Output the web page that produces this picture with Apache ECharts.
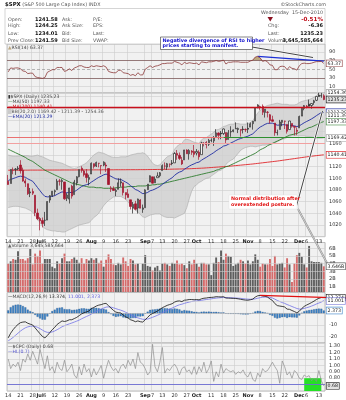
<!DOCTYPE html>
<html>
<head>
<meta charset="utf-8">
<script src="https://cdn.jsdelivr.net/npm/echarts@6/dist/echarts.min.js"></script>
<style>
html,body{margin:0;padding:0;background:#fff;}
#chart{width:346px;height:400px;}
</style>
</head>
<body>
<div id="chart"></div>
<script>
// ---- trading days (2010) ----
const dates = ['06-14','06-15','06-16','06-17','06-18','06-21','06-22','06-23','06-24','06-25','06-28','06-29','06-30',
'07-01','07-02','07-06','07-07','07-08','07-09','07-12','07-13','07-14','07-15','07-16','07-19','07-20','07-21','07-22','07-23','07-26','07-27','07-28','07-29','07-30',
'08-02','08-03','08-04','08-05','08-06','08-09','08-10','08-11','08-12','08-13','08-16','08-17','08-18','08-19','08-20','08-23','08-24','08-25','08-26','08-27','08-30','08-31',
'09-01','09-02','09-03','09-07','09-08','09-09','09-10','09-13','09-14','09-15','09-16','09-17','09-20','09-21','09-22','09-23','09-24','09-27','09-28','09-29','09-30',
'10-01','10-04','10-05','10-06','10-07','10-08','10-11','10-12','10-13','10-14','10-15','10-18','10-19','10-20','10-21','10-22','10-25','10-26','10-27','10-28','10-29',
'11-01','11-02','11-03','11-04','11-05','11-08','11-09','11-10','11-11','11-12','11-15','11-16','11-17','11-18','11-19','11-22','11-23','11-24','11-26','11-29','11-30',
'12-01','12-02','12-03','12-06','12-07','12-08','12-09','12-10','12-13','12-14','12-15'];

// x-axis tick labels
const tickDates = ['06-14','06-21','06-28','07-01','07-06','07-12','07-19','07-26','08-02','08-09','08-16','08-23','09-01','09-07','09-13','09-20','09-27','10-01','10-11','10-18','10-25','11-01','11-08','11-15','11-22','12-01','12-06','12-13'];
const tickText  = ['14','21','28','Jul','6','12','19','26','Aug','9','16','23','Sep','7','13','20','27','Oct','11','18','25','Nov','8','15','22','Dec','6','13'];
const priceTickLabels = [1020,1040,1060,1080,1100,1120,1160];

// ---- $SPX daily OHLC ----
const opens = [1095.0,1091.2,1114.0,1115.0,1116.2,1122.8,1113.9,1095.6,1090.9,1075.1,1077.5,1071.1,1040.6,
1031.1,1027.7,1028.1,1028.5,1062.9,1070.5,1077.2,1080.6,1095.6,1094.5,1093.9,1066.0,1064.5,1086.7,1072.1,1092.2,1102.9,1117.4,1112.8,1108.1,1098.4,
1107.5,1125.3,1121.1,1125.8,1122.1,1122.8,1122.9,1116.9,1081.5,1082.2,1077.5,1081.2,1092.1,1092.4,1075.6,1073.4,1063.2,1048.9,1056.3,1049.3,1062.9,1046.9,
1049.7,1080.7,1093.6,1102.6,1092.4,1101.2,1104.6,1113.4,1121.2,1119.4,1123.9,1126.4,1126.6,1142.8,1139.5,1131.1,1131.7,1148.6,1142.3,1146.8,1146.0,
1143.5,1145.0,1140.7,1159.8,1161.6,1158.4,1165.3,1164.3,1171.3,1177.8,1177.5,1176.8,1178.6,1166.7,1179.6,1180.5,1184.7,1183.8,1183.8,1184.5,1183.9,
1185.7,1187.9,1193.8,1198.3,1221.2,1223.2,1223.6,1213.1,1213.0,1209.1,1200.4,1194.8,1178.3,1183.8,1196.1,1198.1,1192.5,1183.7,1194.2,1189.1,1182.6,
1186.6,1206.8,1219.9,1223.9,1227.3,1225.0,1230.1,1233.9,1242.5,1241.8,1241.58];
const highs = [1105.9,1115.6,1118.7,1117.7,1121.0,1131.2,1118.5,1099.6,1090.9,1083.6,1082.6,1071.1,1048.1,
1033.6,1032.9,1042.5,1060.9,1071.3,1078.2,1080.8,1099.1,1099.1,1098.7,1093.9,1074.7,1083.9,1089.0,1097.5,1103.7,1115.0,1120.9,1114.7,1115.9,1106.4,
1127.3,1125.4,1128.8,1126.6,1122.1,1129.2,1127.2,1116.9,1086.7,1086.3,1082.6,1100.1,1099.8,1092.4,1075.6,1081.6,1063.2,1059.4,1061.5,1065.2,1064.4,1055.1,
1081.3,1090.1,1105.1,1102.6,1103.3,1110.3,1110.9,1123.9,1127.4,1126.5,1125.4,1131.5,1144.9,1148.6,1144.4,1136.8,1148.9,1149.9,1150.0,1148.6,1157.2,
1150.3,1148.2,1162.8,1162.3,1163.9,1167.7,1168.7,1172.6,1184.4,1178.9,1181.2,1185.5,1178.6,1182.9,1189.4,1183.9,1196.1,1187.1,1183.8,1189.5,1185.5,
1195.8,1195.9,1198.3,1221.3,1227.1,1224.6,1226.8,1218.8,1215.5,1210.5,1207.4,1194.8,1183.6,1200.3,1200.0,1198.9,1192.5,1198.6,1194.2,1189.1,1187.4,
1207.6,1221.9,1225.6,1225.8,1235.1,1228.9,1234.7,1240.4,1246.7,1246.6,1244.25];
const lows = [1089.0,1091.2,1107.1,1105.9,1113.9,1108.2,1094.2,1085.3,1071.6,1067.9,1071.5,1035.2,1028.3,
1010.9,1015.9,1018.4,1028.5,1058.2,1068.1,1070.5,1080.6,1087.7,1080.5,1063.3,1061.1,1056.9,1065.3,1072.1,1087.9,1101.8,1109.8,1103.1,1092.8,1088.0,
1107.5,1116.8,1119.5,1118.9,1107.2,1120.9,1111.0,1088.6,1076.7,1079.0,1069.6,1081.2,1085.8,1070.7,1063.9,1067.1,1046.7,1039.8,1045.4,1039.7,1048.8,1040.9,
1049.7,1080.4,1093.6,1091.2,1092.4,1101.2,1101.7,1113.4,1115.6,1114.6,1118.9,1122.4,1126.6,1131.9,1131.6,1122.8,1131.7,1142.0,1132.1,1140.3,1136.1,
1139.4,1131.9,1140.7,1154.9,1151.4,1155.6,1162.0,1155.7,1171.3,1166.7,1167.1,1174.6,1159.7,1166.7,1171.2,1179.0,1184.7,1177.7,1171.7,1177.1,1179.7,
1177.7,1187.9,1183.6,1198.3,1220.3,1217.6,1208.7,1204.3,1204.5,1194.1,1197.2,1173.0,1173.7,1183.8,1189.4,1184.6,1176.9,1183.7,1186.9,1173.6,1174.1,
1186.6,1206.8,1216.8,1220.1,1223.3,1219.5,1226.1,1232.6,1240.3,1238.2,1234.01];
const closes = [1089.6,1115.2,1114.6,1116.0,1117.5,1113.2,1095.3,1092.0,1073.7,1076.8,1074.6,1041.2,1030.7,
1027.4,1022.6,1028.1,1060.3,1070.3,1078.0,1078.8,1095.3,1095.2,1096.5,1064.9,1071.3,1083.5,1069.6,1093.7,1102.7,1115.0,1113.8,1106.1,1101.5,1101.6,
1125.9,1120.5,1127.2,1125.8,1121.6,1127.8,1121.1,1089.5,1083.6,1079.3,1079.4,1092.5,1094.2,1075.6,1071.7,1067.4,1051.9,1055.3,1047.2,1064.6,1048.9,1049.3,
1080.3,1090.1,1104.5,1091.8,1098.9,1104.2,1109.6,1121.9,1121.1,1125.1,1124.7,1125.6,1142.7,1139.8,1134.3,1124.8,1148.7,1142.2,1147.7,1144.7,1141.2,
1146.2,1137.0,1160.8,1160.0,1158.1,1165.2,1165.3,1169.8,1178.1,1173.8,1176.2,1184.7,1165.9,1178.2,1180.3,1183.1,1185.6,1185.6,1182.5,1183.8,1183.3,
1184.4,1193.6,1198.0,1221.1,1225.9,1223.3,1213.4,1218.7,1213.5,1199.2,1197.8,1178.3,1178.6,1196.7,1199.7,1197.8,1180.7,1198.4,1189.4,1187.8,1180.6,
1206.1,1221.5,1224.7,1223.1,1223.8,1228.3,1233.0,1240.4,1240.5,1241.59,1235.23];

// ---- overlays ----
const ma50 = [1150,1148,1146,1144,1142,1140,1138,1136,1133,1131,1129,1126,1123,
1120,1117,1114,1112,1110,1108,1106,1104,1102,1100,1098,1096,1094,1092,1091,1090,1089,1088,1087,1086,1085,
1085,1085,1084,1084,1084,1083,1083,1083,1083,1083,1084,1084,1085,1085,1085,1086,1086,1086,1086,1087,1087,1087,
1087,1088,1088,1089,1089,1090,1090,1091,1092,1093,1094,1095,1096,1097,1098,1099,1100,1101,1102,1103,1104,
1105,1106,1107,1108,1109,1110,1111,1112,1114,1115,1117,1118,1120,1121,1123,1125,1127,1129,1131,1133,1135,
1137,1139,1141,1143,1146,1149,1151,1153,1156,1158,1160,1162,1164,1166,1168,1170,1172,1174,1175,1176,1177,
1179,1181,1183,1185,1187,1188,1190,1192,1194,1196,1197.33];
const ma200 = [1114.0,1114.0,1114.0,1114.0,1114.1,1114.1,1114.1,1114.1,1114.1,1114.2,1114.2,1114.2,1114.2,
1114.2,1114.2,1114.2,1114.3,1114.3,1114.3,1114.3,1114.3,1114.3,1114.4,1114.4,1114.4,1114.4,1114.4,1114.4,1114.5,1114.5,1114.5,1114.5,1114.5,1114.5,
1114.6,1114.6,1114.6,1114.6,1114.6,1114.7,1114.7,1114.7,1114.7,1114.7,1114.8,1114.8,1114.8,1114.8,1114.8,1114.9,1114.9,1114.9,1114.9,1114.9,1115.0,1115.0,
1115.0,1115.1,1115.1,1115.2,1115.2,1115.3,1115.3,1115.4,1115.5,1115.6,1115.7,1115.8,1115.9,1116.0,1116.1,1116.2,1116.3,1116.4,1116.5,1116.7,1116.9,
1117.1,1117.3,1117.5,1117.7,1118.0,1118.3,1118.6,1118.9,1119.2,1119.5,1119.8,1120.1,1120.4,1120.7,1121.1,1121.5,1121.9,1122.3,1122.7,1123.1,1123.5,
1123.9,1124.3,1124.7,1125.2,1125.7,1126.2,1126.7,1127.2,1127.7,1128.2,1128.7,1129.2,1129.7,1130.3,1130.9,1131.5,1132.1,1132.7,1133.3,1133.9,1134.5,
1135.1,1135.7,1136.3,1136.9,1137.5,1138.0,1138.5,1139.0,1139.5,1140.0,1140.41];
const ema20 = [1096.3,1098.1,1099.7,1101.2,1102.8,1103.8,1103.0,1101.9,1099.2,1097.1,1095.0,1089.8,1084.2,
1078.8,1073.4,1069.1,1068.3,1068.5,1069.4,1070.3,1072.7,1074.8,1076.9,1075.7,1075.3,1076.1,1075.5,1077.2,1079.7,1083.0,1086.0,1087.9,1089.2,1090.4,
1093.7,1096.3,1099.2,1101.8,1103.7,1106.0,1107.4,1105.7,1103.6,1101.3,1099.2,1098.6,1098.2,1096.0,1093.7,1091.2,1087.5,1084.4,1080.9,1079.3,1076.4,1073.8,
1074.4,1075.9,1078.7,1079.9,1081.7,1083.9,1086.3,1089.7,1092.7,1095.8,1098.5,1101.1,1105.1,1108.4,1110.8,1112.2,1115.6,1118.2,1121.0,1123.2,1124.9,
1127.0,1127.9,1131.1,1133.8,1136.1,1138.9,1141.4,1144.1,1147.3,1149.9,1152.4,1155.4,1156.4,1158.5,1160.6,1162.7,1164.9,1166.9,1168.3,1169.8,1171.1,
1172.4,1174.4,1176.4,1180.5,1184.6,1188.0,1190.2,1192.7,1194.3,1194.6,1194.7,1192.9,1191.2,1191.5,1191.9,1192.1,1190.7,1191.0,1190.5,1190.0,1188.8,
1190.1,1192.7,1195.4,1197.6,1199.7,1202.0,1204.6,1207.6,1210.3,1212.8,1213.29];
const bbUpper = [1140,1139,1138,1138,1138,1139,1139,1139,1139,1138,1138,1139,1140,
1138,1137,1135,1133,1131,1130,1129,1128,1127,1126,1124,1122,1120,1118,1117,1118,1120,1122,1124,1127,1131,
1136,1140,1143,1145,1144,1143,1141,1139,1137,1136,1136,1136,1137,1137,1137,1138,1140,1141,1142,1143,1143,1144,
1142,1138,1132,1126,1123,1122,1123,1128,1133,1137,1139,1141,1150,1155,1158,1160,1166,1167,1166,1164,1162,
1161,1160,1166,1169,1170,1173,1176,1179,1183,1184,1186,1189,1190,1192,1193,1193,1194,1194,1193,1193,1193,
1194,1196,1199,1206,1212,1217,1220,1223,1225,1226,1227,1228,1229,1228,1227,1227,1227,1226,1226,1226,1227,
1230,1232,1233,1234,1235,1237,1239,1242,1246,1250,1254.36];
const bbLower = [1050,1051,1052,1052,1052,1051,1050,1049,1047,1045,1042,1037,1030,
1024,1018,1014,1012,1011,1010,1010,1009,1009,1008,1008,1010,1012,1014,1016,1018,1020,1021,1022,1023,1024,
1028,1033,1036,1040,1047,1053,1058,1062,1065,1068,1069,1069,1069,1067,1064,1060,1054,1050,1045,1043,1038,1034,
1033,1035,1037,1038,1039,1039,1039,1036,1034,1033,1033,1033,1032,1034,1036,1038,1040,1050,1065,1078,1086,
1089,1093,1095,1098,1100,1101,1104,1107,1110,1113,1114,1118,1124,1128,1131,1133,1138,1143,1148,1151,1153,
1154,1155,1155,1154,1155,1156,1157,1157,1158,1158,1159,1161,1163,1165,1167,1168,1170,1172,1173,1173,1173,
1173,1173,1173,1172,1172,1171,1170,1169,1169,1169,1169.42];
const bbMidLast = 1211.39;
// drawn support / resistance levels
const levelRed = 1222.5, levelUpper = 1171, levelLower = 1160;

// ---- RSI(14) ----
const rsi = [44,53,52,53,53,51,46,45,40,41,41,33,31,
30,29,31,43,46,49,49,54,54,54,45,47,51,47,53,55,58,58,55,54,54,
58,56,58,57,56,58,55,45,43,42,42,47,48,42,41,40,36,38,35,42,37,37,
50,54,58,54,57,58,60,63,63,64,64,64,68,66,64,60,66,63,65,64,63,
64,60,67,66,65,67,67,68,70,68,69,71,62,66,66,67,67,67,66,66,66,
66,69,71,78,79.5,76,68,70,67,60,59,49,49,56,57,56,49,56,52,51,48,
58,63,64,63,63,64,66,67.5,67.5,68,63.37];
const rsiLevels = [90,70,50,30,10];

// ---- Volume (billions of shares) ----
const volumes = [4.0,4.3,4.6,4.5,5.6,4.6,4.6,4.4,4.7,5.9,3.9,5.3,5.0,
5.7,4.0,4.6,4.6,4.6,3.6,3.4,4.3,4.0,4.7,5.3,4.3,4.3,4.6,4.8,4.5,4.1,4.7,4.0,4.6,4.4,
4.7,4.5,4.7,4.1,4.4,3.6,4.5,5.2,4.6,3.9,3.8,4.1,3.9,4.8,4.3,3.7,4.6,4.4,3.9,4.0,3.1,4.0,
5.1,3.7,3.6,3.1,3.5,3.7,3.1,4.0,4.1,3.9,3.7,4.1,4.0,4.4,3.9,4.0,3.8,3.4,4.3,3.9,4.5,
4.0,3.6,4.1,4.1,3.9,3.9,2.5,4.1,4.8,4.2,5.7,4.5,5.3,5.0,4.9,3.7,3.9,4.1,4.5,4.3,4.0,
4.4,3.9,4.3,5.2,4.5,3.6,4.0,3.9,3.9,4.6,3.7,5.0,3.9,4.0,4.1,3.5,4.7,3.9,1.6,4.0,5.1,
5.4,4.9,3.9,3.5,6.3,4.3,4.2,4.2,4.2,4.1,3.645585664];
const volumeLevels = [1,2,3,4,5,6];

// ---- MACD(12,26,9) ----
const macd = [-21,-17,-14,-11.5,-9.5,-8,-7.5,-7.3,-8.5,-9.3,-10,-12.5,-15,
-17.5,-19.8,-21,-19,-16.5,-14,-12,-9.5,-8,-6.5,-7,-6.5,-5.5,-5.5,-4.5,-3.5,-2,-0.5,0.5,1.2,2,
4,5,6.2,7,7.4,8.2,8.5,6.5,4.5,2.5,1,0.6,0.3,-1.5,-3,-4,-5.5,-6.2,-7.2,-6.5,-7.2,-7.5,
-5.5,-3.5,-1.3,-0.2,0.8,2,3.3,4.8,5.8,6.8,7.5,8.2,9.6,10.4,10.6,10,11.2,11.4,11.8,11.8,11.6,
11.8,11.5,12.4,12.9,13.1,13.5,13.6,13.8,14.2,14.1,14.0,14.2,13.1,13.0,12.9,12.8,12.7,12.4,12.0,11.6,11.3,
11.2,11.6,12.2,13.9,15.0,15.3,14.8,14.6,13.9,12.3,11.0,8.3,6.6,6.2,5.9,5.4,3.6,3.4,2.4,1.5,0.4,
1.8,4.1,5.9,7.1,8.1,9.2,10.4,11.8,12.8,13.5,13.374];
const macdSignal = [-23.5,-22.2,-20.6,-18.8,-17,-15.2,-13.7,-12.4,-11.6,-11.1,-10.9,-11.2,-12.0,
-13.1,-14.4,-15.6,-16.3,-16.3,-15.9,-15.1,-14.0,-12.8,-11.5,-10.6,-9.8,-9.0,-8.3,-7.5,-6.7,-5.8,-4.7,-3.7,-2.7,-1.8,
-0.6,0.5,1.6,2.7,3.6,4.5,5.3,5.5,5.3,4.7,4.0,3.3,2.7,1.9,0.9,-0.1,-1.2,-2.2,-3.2,-3.9,-4.5,-5.1,
-5.2,-4.9,-4.2,-3.4,-2.6,-1.7,-0.7,0.4,1.5,2.6,3.6,4.5,5.5,6.5,7.3,7.8,8.5,9.1,9.6,10.1,10.4,
10.7,10.8,11.1,11.5,11.8,12.1,12.4,12.7,13.0,13.2,13.4,13.5,13.4,13.4,13.3,13.2,13.1,12.9,12.8,12.5,12.3,
12.1,12.0,12.0,12.4,12.9,13.4,13.7,13.9,13.9,13.6,13.1,12.1,11.0,10.1,9.2,8.5,7.5,6.7,5.8,5.0,4.1,
3.6,3.7,4.2,4.8,5.4,6.2,7.0,8.0,8.8,9.6,11.001];
const macdHist = [2.5,5.2,6.6,7.3,7.5,7.2,6.2,5.1,3.1,1.8,0.9,-1.3,-3.0,
-4.4,-5.4,-5.4,-2.7,-0.2,1.9,3.1,4.5,4.8,5.0,3.6,3.3,3.5,2.8,3.0,3.2,3.8,4.2,4.2,3.9,3.8,
4.6,4.5,4.6,4.3,3.8,3.7,3.2,1.0,-0.8,-2.2,-3.0,-2.7,-2.4,-3.4,-3.9,-3.9,-4.3,-4.0,-4.0,-2.6,-2.7,-2.4,
-0.3,1.4,2.9,3.2,3.4,3.7,4.0,4.4,4.3,4.2,3.9,3.7,4.1,3.9,3.3,2.2,2.7,2.3,2.2,1.7,1.2,
1.1,0.7,1.3,1.4,1.3,1.4,1.2,1.1,1.2,0.9,0.6,0.7,-0.3,-0.4,-0.4,-0.4,-0.4,-0.5,-0.8,-0.9,-1.0,
-0.9,-0.4,0.2,1.5,2.1,1.9,1.1,0.7,0.0,-1.3,-2.1,-3.8,-4.4,-3.9,-3.3,-3.1,-3.9,-3.3,-3.4,-3.5,-3.7,
-1.8,0.4,1.7,2.3,2.7,3.0,3.4,3.8,4.0,3.9,2.373];
const macdLevels = [10,0,-10,-20];

// ---- $CPC put/call ratio ----
const cpc = [1.10,0.95,1.02,0.98,1.05,0.92,1.10,1.05,1.18,1.08,1.22,1.12,1.02,
1.25,1.10,0.95,1.15,0.92,0.98,0.88,1.05,0.95,0.92,1.08,0.90,0.95,1.02,0.85,0.80,0.98,0.85,1.02,0.90,0.95,
0.82,0.95,0.85,0.92,1.00,0.80,0.95,1.08,0.98,0.92,0.95,0.88,0.98,1.02,0.95,1.08,1.00,1.10,0.95,1.20,1.05,1.02,
0.95,0.85,0.90,1.33,0.98,0.90,1.05,1.28,0.88,0.95,0.92,0.98,1.02,0.96,0.85,0.95,0.98,0.90,0.93,0.86,0.98,
0.86,0.98,0.90,1.05,0.88,0.95,1.07,0.75,0.90,0.82,1.02,0.88,0.95,0.92,0.90,0.92,0.86,0.90,0.88,0.93,0.85,
0.82,0.90,0.78,0.75,0.88,0.82,0.95,0.90,0.92,0.98,1.05,0.98,0.92,0.72,1.07,0.98,0.85,0.90,0.80,0.92,0.88,
0.80,0.78,0.85,0.82,0.84,0.76,0.80,0.75,0.92,0.76,0.68];
const cpcLine = 0.7;
const cpcZone = {from:'12-03', to:'12-14', top:0.80};

// sanity check on series lengths
[opens,highs,lows,closes,ma50,ma200,ema20,bbUpper,bbLower,rsi,volumes,macd,macdSignal,macdHist,cpc].forEach((a,k)=>{
  if (a.length !== dates.length) throw new Error('series '+k+' has '+a.length+' values, expected '+dates.length);
});

// ---------------- chart ----------------
const N = dates.length, L = N - 1;
const FONT = '"DejaVu Sans"';
const chart = echarts.init(document.getElementById('chart'), null, {renderer:'canvas'});

const tickSet = new Set(tickDates.map(d => dates.indexOf(d)));
const tickMap = {}; tickDates.forEach((d,i) => tickMap[d] = tickText[i]);
const monthNames = new Set(['Jul','Aug','Sep','Oct','Nov','Dec']);
const downDay = closes.map((c,i) => i === 0 ? c < opens[i] : c < closes[i-1]);

const RED = '#a3162e', UPC = '#222';
const candleData = closes.map((c,i) => {
  const edge = downDay[i] ? RED : UPC;
  const fill = c < opens[i] ? edge : '#f6f6f6';
  return {value:[opens[i], c, lows[i], highs[i]], itemStyle:{color:fill, color0:fill, borderColor:edge, borderColor0:edge}};
});

const GRIDS = [
  {top:44,    height:49},    // RSI
  {top:93,    height:143.7}, // price
  {top:242.5, height:49.5},  // volume
  {top:292.5, height:50.5},  // MACD
  {top:343,   height:48}     // $CPC
];
const grid = GRIDS.map(g => Object.assign({left:7, right:21, show:true, backgroundColor:'#f1f1f1', borderColor:'#9c9c9c', borderWidth:0.6}, g));

function xAx(gi, showLabel) {
  return {type:'category', gridIndex:gi, data:dates, boundaryGap:true,
    axisLine:{show:false}, axisTick:{show:false},
    axisLabel:{show:showLabel, interval:(i) => tickSet.has(i), margin:2.5, fontSize:5, color:'#333', fontFamily:'DejaVu Sans',
      formatter:(v) => { const t = tickMap[v] || ''; return monthNames.has(t) ? '{m|'+t+'}' : t; },
      rich:{m:{fontWeight:'bold', fontSize:5, color:'#222', fontFamily:'DejaVu Sans'}}},
    splitLine:{show:true, interval:(i) => tickSet.has(i), lineStyle:{color:'#cdcdcd', width:0.6}}};
}
function yAx(gi, min, max, extra) {
  return Object.assign({type:'value', gridIndex:gi, min, max, position:'right', scale:true,
    axisLine:{show:false}, axisTick:{show:false}, axisLabel:{show:false}, splitLine:{show:false}}, extra || {});
}
const priceShown = new Set(priceTickLabels);

function levelLines(levels, fmt, styleFn) {
  return levels.map(v => ({yAxis:v, lineStyle:styleFn(v),
    label:{show: fmt(v) !== '', formatter: fmt(v), position:'end', distance:4, fontSize:5, color:'#333', fontFamily:'DejaVu Sans'}}));
}
const grayLine = {color:'#cdcdcd', width:0.6, type:'solid'};

const option = {
  animation:false,
  textStyle:{fontFamily:'DejaVu Sans'},
  grid,
  xAxis:[xAx(0,false), xAx(1,true), xAx(2,false), xAx(3,false), xAx(4,true)],
  yAxis:[
    yAx(0, -4.6, 108),
    yAx(1, 1000, 1246.4, {interval:20,
      axisLabel:{show:true, fontSize:5, color:'#333', margin:4, fontFamily:'DejaVu Sans', formatter:(v) => priceShown.has(v) ? String(v) : ''},
      splitLine:{show:true, lineStyle:{color:'#cdcdcd', width:0.6}}}),
    yAx(2, 0.3, 6.75),
    yAx(3, -25.4, 17.8),
    yAx(4, 0.6, 1.35, {interval:0.1,
      axisLabel:{show:true, fontSize:5, color:'#333', margin:4, fontFamily:'DejaVu Sans', formatter:(v) => (v > 0.75 && v < 1.32) ? v.toFixed(2) : ''},
      splitLine:{show:true, lineStyle:{color:'#cdcdcd', width:0.6}}})
  ],
  series:[
    // RSI overbought shading (between 70 and the RSI line)
    {type:'line', xAxisIndex:0, yAxisIndex:0, data:rsi.map(() => 70), stack:'ob', symbol:'none', lineStyle:{opacity:0}, silent:true},
    {type:'line', xAxisIndex:0, yAxisIndex:0, data:rsi.map(v => Math.max(0, v - 70)), stack:'ob', symbol:'none',
      lineStyle:{opacity:0}, areaStyle:{color:'#bca77f', opacity:1}, silent:true},
    {type:'line', xAxisIndex:0, yAxisIndex:0, data:rsi, symbol:'none', z:5, lineStyle:{color:'#8d3a3a', width:0.8}, silent:true,
      markLine:{silent:true, symbol:['none','none'], animation:false,
        data: levelLines(rsiLevels, v => String(v), v => v === 50 ? {color:'#8a8a8a', width:0.6, type:[3,2]} :
                                                   (v === 70 || v === 30) ? {color:'#7d5a5a', width:0.8, type:'solid'} : grayLine)
          .concat([[{coord:[dates[102], 79.5], lineStyle:{color:'#1b2fd6', width:1.3, type:'solid'}, label:{show:false}}, {coord:[dates[L], 68.5]}]])}},

    // Bollinger band (20,2)
    {type:'line', xAxisIndex:1, yAxisIndex:1, data:bbLower, stack:'bb', symbol:'none', z:1, silent:true, lineStyle:{color:'#a9a9a9', width:0.6}},
    {type:'line', xAxisIndex:1, yAxisIndex:1, data:bbUpper.map((u,i) => u - bbLower[i]), stack:'bb', symbol:'none', z:1, silent:true,
      lineStyle:{color:'#a9a9a9', width:0.6}, areaStyle:{color:'#cfcfcf', opacity:0.8}},
    // drawn levels
    {type:'line', xAxisIndex:1, yAxisIndex:1, data:[], silent:true,
      markLine:{silent:true, symbol:['none','none'], animation:false, label:{show:false},
        data:[
          {yAxis:levelRed, lineStyle:{color:'#c8101c', width:1.3, type:'solid'}},
          {yAxis:levelLower, lineStyle:{color:'#f2a0a0', width:1, type:'solid'}},
          [{coord:[dates[0], levelUpper], x:7, lineStyle:{color:'#ea7070', width:1, type:'solid'}}, {coord:[dates[88], levelUpper]}],
          [{coord:[dates[88], levelUpper], lineStyle:{color:'#2f8f2f', width:1, type:'solid'}}, {coord:[dates[L], levelUpper], x:325}]
        ]}},
    {type:'line', xAxisIndex:1, yAxisIndex:1, data:ma200, symbol:'none', z:3, silent:true, lineStyle:{color:'#e0262a', width:0.9}},
    {type:'line', xAxisIndex:1, yAxisIndex:1, data:ma50, symbol:'none', z:3, silent:true, lineStyle:{color:'#2f7d2f', width:0.9}},
    {type:'line', xAxisIndex:1, yAxisIndex:1, data:ema20, symbol:'none', z:3, silent:true, lineStyle:{color:'#1e2aa0', width:0.9}},
    {type:'candlestick', xAxisIndex:1, yAxisIndex:1, data:candleData, barWidth:1.7, z:4, silent:true, itemStyle:{borderWidth:0.7}},

    // Volume
    {type:'bar', xAxisIndex:2, yAxisIndex:2, barWidth:1.9, silent:true,
      data:volumes.map((v,i) => ({value:v, itemStyle:{color: downDay[i] ? '#d46b6b' : '#5e5e5e'}})),
      markLine:{silent:true, symbol:['none','none'], animation:false, data:levelLines(volumeLevels, v => v + 'B', () => grayLine)}},

    // MACD
    {type:'bar', xAxisIndex:3, yAxisIndex:3, barWidth:1.9, silent:true, data:macdHist,
      itemStyle:{color:'#3c84c8', borderColor:'#1f4f86', borderWidth:0.3},
      markLine:{silent:true, symbol:['none','none'], animation:false,
        data:levelLines(macdLevels, v => v < 0 ? String(v) : '', v => v === 0 ? {color:'#b5b5b5', width:0.6, type:'solid'} : grayLine)}},
    {type:'line', xAxisIndex:3, yAxisIndex:3, data:macdSignal, symbol:'none', silent:true, z:4, lineStyle:{color:'#7272e6', width:0.8}},
    {type:'line', xAxisIndex:3, yAxisIndex:3, data:macd, symbol:'none', silent:true, z:5, lineStyle:{color:'#111', width:0.8}},

    // $CPC
    {type:'line', xAxisIndex:4, yAxisIndex:4, data:cpc, symbol:'none', silent:true, z:5, lineStyle:{color:'#8e8e8e', width:0.7},
      markArea:{silent:true, itemStyle:{color:'#25e025', opacity:1},
        data:[[{xAxis:cpcZone.from, yAxis:cpcZone.top}, {xAxis:cpcZone.to, yAxis:0.6}]]},
      markLine:{silent:true, symbol:['none','none'], animation:false, label:{show:false},
        data:[{yAxis:cpcLine, lineStyle:{color:'#6c6cd2', width:0.9, type:'solid'}}]}}
  ]
};
chart.setOption(option);

// ---------------- text, value tags and notes ----------------
const g = [];
function txt(x, y, text, st, z) {
  g.push({type:'text', x, y, silent:true, z: z || 100,
    style:Object.assign({text, fill:'#333', font:'5px ' + FONT, verticalAlign:'middle'}, st || {})});
}
function line(x1, y1, x2, y2, stroke, w, z) {
  g.push({type:'line', silent:true, z: z || 90, shape:{x1, y1, x2, y2}, style:{stroke, lineWidth:w}});
}
const fmt2 = v => v.toFixed(2);
const last = closes[L], prev = closes[L-1], chg = last - prev;
const volText = Math.round(volumes[L] * 1e9).toLocaleString('en-US');

// title + table
txt(5, 5, '{b|$SPX} {n|(S&P 500 Large Cap Index) INDX}', {rich:{b:{font:'bold 5.4px ' + FONT, fill:'#111'}, n:{font:'4.8px ' + FONT, fill:'#555'}}});
txt(326, 5, '©StockCharts.com', {align:'right', font:'4.8px ' + FONT, fill:'#555'});
g.push({type:'rect', silent:true, z:95, shape:{x:5, y:8.5, width:320, height:35.5}, style:{fill:'#fff', stroke:'#b8b8b8', lineWidth:0.6}});
const rowsY = [19.3, 26, 33.3, 40.7];
const leftRows = [['Open:', opens[L], 'Ask:', 'P/E:'], ['High:', highs[L], 'Ask Size:', 'EPS:'], ['Low:', lows[L], 'Bid:', 'Last:'], ['Prev Close:', prev, 'Bid Size:', 'VWAP:']];
leftRows.forEach((r,i) => {
  txt(8, rowsY[i], r[0], {font:'4.8px ' + FONT, fill:'#555'});
  txt(35, rowsY[i], fmt2(r[1]), {font:'bold 5px ' + FONT, fill:'#111'});
  txt(62, rowsY[i], r[2], {font:'4.8px ' + FONT, fill:'#555'});
  txt(93, rowsY[i], r[3], {font:'4.8px ' + FONT, fill:'#555'});
});
txt(323, 12.7, 'Wednesday  15-Dec-2010', {align:'right', font:'4.8px ' + FONT, fill:'#555'});
g.push({type:'polygon', silent:true, z:101, shape:{points:[[267.5,17],[273,17],[270.25,21.5]]}, style:{fill:'#8a0f1f'}});
txt(323, 19.3, (chg / prev * 100).toFixed(2) + '%', {align:'right', font:'bold 5.6px ' + FONT, fill:'#c0101c'});
txt(268, 26, 'Chg:', {font:'4.8px ' + FONT, fill:'#555'});
txt(323, 26, fmt2(chg), {align:'right', font:'bold 5px ' + FONT, fill:'#111'});
txt(268, 33.3, 'Last:', {font:'4.8px ' + FONT, fill:'#555'});
txt(323, 33.3, fmt2(last), {align:'right', font:'bold 5px ' + FONT, fill:'#111'});
txt(268, 40.7, 'Volume:', {font:'4.8px ' + FONT, fill:'#555'});
txt(323, 40.7, volText, {align:'right', font:'bold 5px ' + FONT, fill:'#111'});

// panel legends
const lf = '4.6px ' + FONT;
txt(8, 48, '{i|▲}RSI(14) ' + fmt2(rsi[L]), {font:lf, fill:'#444', rich:{i:{fill:'#bca77f', font:lf}}});
txt(8, 96.8, '{i|▮}$SPX (Daily) ' + fmt2(last), {font:lf, fill:'#444', rich:{i:{fill:'#333', font:lf}}});
txt(8, 101.8, '{d|—}MA(50) ' + fmt2(ma50[L]), {font:lf, fill:'#444', rich:{d:{fill:'#2f7d2f', font:lf}}});
txt(8, 106.6, '{d|—}MA(200) ' + fmt2(ma200[L]), {font:lf, fill:'#c8101c', rich:{d:{fill:'#e0262a', font:lf}}});
txt(8, 111.6, '{d|▒}BB(20,2.0) ' + fmt2(bbLower[L]) + ' - ' + fmt2(bbMidLast) + ' - ' + fmt2(bbUpper[L]), {font:lf, fill:'#555', rich:{d:{fill:'#aaa', font:lf}}});
txt(8, 116.6, '{d|—}EMA(20) ' + fmt2(ema20[L]), {font:lf, fill:'#1e2aa0', rich:{d:{fill:'#1e2aa0', font:lf}}});
txt(8, 245.5, '{i|▲}Volume ' + volText, {font:lf, fill:'#444', rich:{i:{fill:'#666', font:lf}}});
txt(8, 296.3, '{d|—}MACD(12,26,9) {k|' + macd[L].toFixed(3) + ',} {b|' + macdSignal[L].toFixed(3) + ', ' + macdHist[L].toFixed(3) + '}',
  {font:lf, fill:'#444', rich:{d:{fill:'#111', font:lf}, k:{fill:'#222', font:lf}, b:{fill:'#5a5ae0', font:lf}}});
txt(8, 346.3, '{d|—}$CPC (Daily) ' + fmt2(cpc[L]), {font:lf, fill:'#444', rich:{d:{fill:'#888', font:lf}}});
txt(8, 351.3, '{d|—}HL(' + cpcLine + ')', {font:lf, fill:'#5a5ad0', rich:{d:{fill:'#6c6cd2', font:lf}}});

// value tags on the right edge
function tags(axisIdx, list, topLimit, gap) {
  const items = list.map(t => Object.assign({}, t, {y: chart.convertToPixel({yAxisIndex:axisIdx}, t.v)}));
  items.sort((a,b) => a.y - b.y);
  let p = -1e9;
  items.forEach(t => { t.y = Math.max(t.y, topLimit, p + gap); p = t.y; });
  items.forEach((t,k) => g.push({type:'text', x:326.5, y:t.y, silent:true, z:120 + k,
    style:{text:t.text, font:'4.7px ' + FONT, fill:t.fg || '#222', backgroundColor:t.bg || '#fff',
      borderColor:t.border, borderWidth:0.6, padding:[0.8,1,0.4,1], verticalAlign:'middle'}}));
}
tags(0, [{v:rsi[L], text:fmt2(rsi[L]), border:'#8d3a3a'}], 0, 0);
tags(1, [
  {v:bbUpper[L], text:fmt2(bbUpper[L]), border:'#999'},
  {v:last, text:fmt2(last), border:'#111', bg:'#e2e2e2'},
  {v:ema20[L], text:fmt2(ema20[L]), border:'#1e2aa0'},
  {v:bbMidLast, text:fmt2(bbMidLast), border:'#999'},
  {v:ma50[L], text:fmt2(ma50[L]), border:'#2f7d2f'},
  {v:bbLower[L], text:fmt2(bbLower[L]), border:'#999'},
  {v:ma200[L], text:fmt2(ma200[L]), border:'#e0262a'}
], 93, 3.5);
tags(2, [{v:volumes[L], text:(volumes[L]).toFixed(3) + 'B', border:'#555'}], 0, 0);
tags(3, [
  {v:macd[L], text:macd[L].toFixed(3), border:'#111'},
  {v:macdSignal[L], text:macdSignal[L].toFixed(3), border:'#6c6cd2'},
  {v:macdHist[L], text:macdHist[L].toFixed(3), border:'#3c84c8'}
], 0, 3.5);
tags(4, [{v:cpc[L], text:fmt2(cpc[L]), border:'#111', bg:'#e2e2e2'}], 0, 0);

// MACD divergence line, from the November peak running out past the right edge
(function () {
  const a = chart.convertToPixel({xAxisIndex:3, yAxisIndex:3}, [dates[103], 15.3]);
  const b = chart.convertToPixel({xAxisIndex:3, yAxisIndex:3}, [dates[L], 13.6]);
  const k = (b[1] - a[1]) / (b[0] - a[0]);
  line(a[0], a[1], 346, a[1] + k * (346 - a[0]), '#e01010', 1.1, 110);
})();

// note: RSI divergence
line(252, 47, 313, 57.5, '#fff', 2.2, 96);
line(252, 47, 313, 57.5, '#111', 0.8, 97);
g.push({type:'rect', silent:true, z:98, shape:{x:160.5, y:37, width:92, height:12.5}, style:{fill:'#fff', stroke:'#333', lineWidth:0.6}});
txt(162.5, 40.3, 'Negative divergence of RSI to higher', {font:'bold 4.9px ' + FONT, fill:'#1111cc'}, 99);
txt(162.5, 46.1, 'prices starting to manifest.', {font:'bold 4.9px ' + FONT, fill:'#1111cc'}, 99);

// note: price pullback
line(298, 209, 327, 263, '#8a8a8a', 1.8, 96);
line(298, 209, 327, 263, '#fff', 0.6, 97);
line(296.5, 206, 322.5, 111, '#fff', 2.2, 96);
line(296.5, 206, 322.5, 111, '#111', 0.8, 97);
g.push({type:'rect', silent:true, z:98, shape:{x:229, y:195, width:68, height:14}, style:{fill:'#fff', stroke:'#ddd', lineWidth:0.4}});
txt(231, 198.8, 'Normal distribution after', {font:'bold 4.9px ' + FONT, fill:'#e01010'}, 99);
txt(231, 205, 'overextended posture.', {font:'bold 4.9px ' + FONT, fill:'#e01010'}, 99);

chart.setOption({graphic:{elements:g}});
</script>
</body>
</html>
